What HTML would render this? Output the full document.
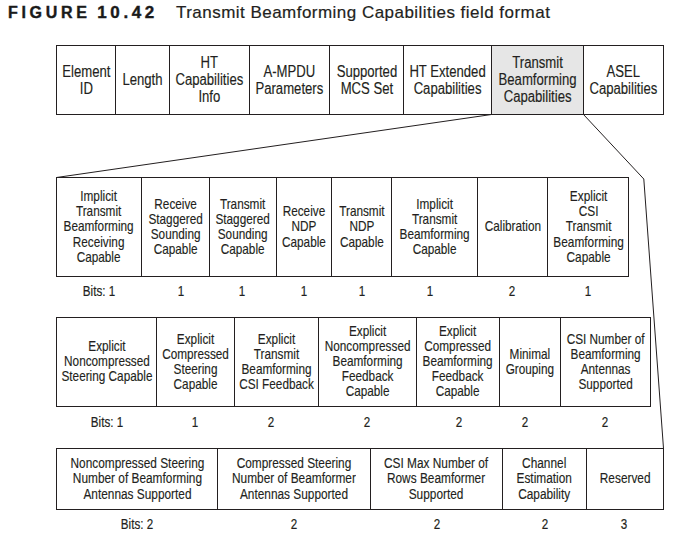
<!DOCTYPE html>
<html><head><meta charset="utf-8"><style>
html,body{margin:0;padding:0;background:#fff;}
body{width:697px;height:552px;position:relative;overflow:hidden;font-family:"Liberation Sans",sans-serif;color:#231f20;}
.l{position:absolute;background:#231f20;}
.c{position:absolute;display:flex;align-items:center;justify-content:center;}
.t{white-space:nowrap;text-align:center;flex:none;-webkit-text-stroke:0.15px #231f20;}
.n{position:absolute;width:100px;text-align:center;white-space:nowrap;-webkit-text-stroke:0.2px #231f20;}
.fig{position:absolute;left:8px;top:0;font-weight:bold;font-size:16px;letter-spacing:3.7px;white-space:nowrap;-webkit-text-stroke:0.4px #1a1a1a;color:#1a1a1a;}
.ttl{position:absolute;left:176px;top:0;font-size:17px;letter-spacing:0.47px;white-space:nowrap;-webkit-text-stroke:0.2px #231f20;}
</style></head><body>
<div class="fig" style="top:4.26px;line-height:18.4px">FIGURE <span style="letter-spacing:3.6px;font-size:17px;margin-left:-1.5px">10.42</span></div>
<div class="ttl" style="top:3.33px;line-height:19.549999999999997px">Transmit Beamforming Capabilities field format</div>
<svg style="position:absolute;left:0;top:0" width="697" height="552" viewBox="0 0 697 552">
<polyline points="491.5,114.5 56.5,177.5" fill="none" stroke="#231f20" stroke-width="1"/>
<polyline points="583.5,114.5 643.8,179 663.5,448.5" fill="none" stroke="#231f20" stroke-width="1"/>
</svg>
<div style="position:absolute;left:492px;top:46px;width:91px;height:68px;background:#e6e6e6"></div>
<div class="l" style="left:56px;top:45px;width:608px;height:1px"></div>
<div class="l" style="left:56px;top:114px;width:608px;height:1px"></div>
<div class="l" style="left:56px;top:45px;width:1px;height:70px"></div>
<div class="l" style="left:115px;top:45px;width:1px;height:70px"></div>
<div class="l" style="left:169px;top:45px;width:1px;height:70px"></div>
<div class="l" style="left:249px;top:45px;width:1px;height:70px"></div>
<div class="l" style="left:329px;top:45px;width:1px;height:70px"></div>
<div class="l" style="left:403px;top:45px;width:1px;height:70px"></div>
<div class="l" style="left:491px;top:45px;width:1px;height:70px"></div>
<div class="l" style="left:583px;top:45px;width:1px;height:70px"></div>
<div class="l" style="left:663px;top:45px;width:1px;height:70px"></div>
<div class="c" style="left:57px;top:45.5px;width:58px;height:68px;"><div class="t" style="font-size:16px;line-height:17px;transform:scaleX(0.82)">Element<br>ID</div></div>
<div class="c" style="left:116px;top:45.5px;width:53px;height:68px;"><div class="t" style="font-size:16px;line-height:17px;transform:scaleX(0.82)">Length</div></div>
<div class="c" style="left:170px;top:45.5px;width:79px;height:68px;"><div class="t" style="font-size:16px;line-height:17px;transform:scaleX(0.82)">HT<br>Capabilities<br>Info</div></div>
<div class="c" style="left:250px;top:45.5px;width:79px;height:68px;"><div class="t" style="font-size:16px;line-height:17px;transform:scaleX(0.82)">A-MPDU<br>Parameters</div></div>
<div class="c" style="left:330px;top:45.5px;width:73px;height:68px;"><div class="t" style="font-size:16px;line-height:17px;transform:scaleX(0.82)">Supported<br>MCS Set</div></div>
<div class="c" style="left:404px;top:45.5px;width:87px;height:68px;"><div class="t" style="font-size:16px;line-height:17px;transform:scaleX(0.82)">HT Extended<br>Capabilities</div></div>
<div class="c" style="left:492px;top:45.5px;width:91px;height:68px;"><div class="t" style="font-size:16px;line-height:17px;transform:scaleX(0.82)">Transmit<br>Beamforming<br>Capabilities</div></div>
<div class="c" style="left:584px;top:45.5px;width:79px;height:68px;"><div class="t" style="font-size:16px;line-height:17px;transform:scaleX(0.82)">ASEL<br>Capabilities</div></div>
<div class="l" style="left:56px;top:177px;width:573px;height:1px"></div>
<div class="l" style="left:56px;top:276px;width:573px;height:1px"></div>
<div class="l" style="left:56px;top:177px;width:1px;height:100px"></div>
<div class="l" style="left:141px;top:177px;width:1px;height:100px"></div>
<div class="l" style="left:209px;top:177px;width:1px;height:100px"></div>
<div class="l" style="left:276px;top:177px;width:1px;height:100px"></div>
<div class="l" style="left:331px;top:177px;width:1px;height:100px"></div>
<div class="l" style="left:391px;top:177px;width:1px;height:100px"></div>
<div class="l" style="left:477px;top:177px;width:1px;height:100px"></div>
<div class="l" style="left:547px;top:177px;width:1px;height:100px"></div>
<div class="l" style="left:628px;top:177px;width:1px;height:100px"></div>
<div class="c" style="left:57px;top:177px;width:84px;height:98px;"><div class="t" style="font-size:15px;line-height:15.1px;transform:scaleX(0.785)">Implicit<br>Transmit<br>Beamforming<br>Receiving<br>Capable</div></div>
<div class="c" style="left:142px;top:177px;width:67px;height:98px;"><div class="t" style="font-size:15px;line-height:15.1px;transform:scaleX(0.785)">Receive<br>Staggered<br>Sounding<br>Capable</div></div>
<div class="c" style="left:210px;top:177px;width:66px;height:98px;"><div class="t" style="font-size:15px;line-height:15.1px;transform:scaleX(0.785)">Transmit<br>Staggered<br>Sounding<br>Capable</div></div>
<div class="c" style="left:277px;top:177px;width:54px;height:98px;"><div class="t" style="font-size:15px;line-height:15.1px;transform:scaleX(0.785)">Receive<br>NDP<br>Capable</div></div>
<div class="c" style="left:332px;top:177px;width:59px;height:98px;"><div class="t" style="font-size:15px;line-height:15.1px;transform:scaleX(0.785)">Transmit<br>NDP<br>Capable</div></div>
<div class="c" style="left:392px;top:177px;width:85px;height:98px;"><div class="t" style="font-size:15px;line-height:15.1px;transform:scaleX(0.785)">Implicit<br>Transmit<br>Beamforming<br>Capable</div></div>
<div class="c" style="left:478px;top:177px;width:69px;height:98px;"><div class="t" style="font-size:15px;line-height:15.1px;transform:scaleX(0.785)">Calibration</div></div>
<div class="c" style="left:549px;top:177px;width:80px;height:98px;"><div class="t" style="font-size:15px;line-height:15.1px;transform:scaleX(0.79)">Explicit<br>CSI<br>Transmit<br>Beamforming<br>Capable</div></div>
<div class="n" style="left:48.5px;top:283.18px;font-size:15.5px;line-height:15.5px;transform:scaleX(0.75)">Bits: 1</div>
<div class="n" style="left:131.2px;top:283.18px;font-size:15.5px;line-height:15.5px;transform:scaleX(0.75)">1</div>
<div class="n" style="left:192.3px;top:283.18px;font-size:15.5px;line-height:15.5px;transform:scaleX(0.75)">1</div>
<div class="n" style="left:253.89999999999998px;top:283.18px;font-size:15.5px;line-height:15.5px;transform:scaleX(0.75)">1</div>
<div class="n" style="left:311.5px;top:283.18px;font-size:15.5px;line-height:15.5px;transform:scaleX(0.75)">1</div>
<div class="n" style="left:379.8px;top:283.18px;font-size:15.5px;line-height:15.5px;transform:scaleX(0.75)">1</div>
<div class="n" style="left:462.29999999999995px;top:283.18px;font-size:15.5px;line-height:15.5px;transform:scaleX(0.75)">2</div>
<div class="n" style="left:538.3px;top:283.18px;font-size:15.5px;line-height:15.5px;transform:scaleX(0.75)">1</div>
<div class="l" style="left:56px;top:317px;width:595px;height:1px"></div>
<div class="l" style="left:56px;top:406px;width:595px;height:1px"></div>
<div class="l" style="left:56px;top:317px;width:1px;height:90px"></div>
<div class="l" style="left:156px;top:317px;width:1px;height:90px"></div>
<div class="l" style="left:234px;top:317px;width:1px;height:90px"></div>
<div class="l" style="left:318px;top:317px;width:1px;height:90px"></div>
<div class="l" style="left:416px;top:317px;width:1px;height:90px"></div>
<div class="l" style="left:499px;top:317px;width:1px;height:90px"></div>
<div class="l" style="left:560px;top:317px;width:1px;height:90px"></div>
<div class="l" style="left:650px;top:317px;width:1px;height:90px"></div>
<div class="c" style="left:57px;top:316.8px;width:99px;height:88px;"><div class="t" style="font-size:15px;line-height:15.05px;transform:scaleX(0.785)">Explicit<br>Noncompressed<br>Steering Capable</div></div>
<div class="c" style="left:157px;top:316.8px;width:77px;height:88px;"><div class="t" style="font-size:15px;line-height:15.05px;transform:scaleX(0.785)">Explicit<br>Compressed<br>Steering<br>Capable</div></div>
<div class="c" style="left:235px;top:316.8px;width:83px;height:88px;"><div class="t" style="font-size:15px;line-height:15.05px;transform:scaleX(0.785)">Explicit<br>Transmit<br>Beamforming<br>CSI Feedback</div></div>
<div class="c" style="left:319px;top:316.8px;width:97px;height:88px;"><div class="t" style="font-size:15px;line-height:15.05px;transform:scaleX(0.785)">Explicit<br>Noncompressed<br>Beamforming<br>Feedback<br>Capable</div></div>
<div class="c" style="left:417px;top:316.8px;width:82px;height:88px;"><div class="t" style="font-size:15px;line-height:15.05px;transform:scaleX(0.785)">Explicit<br>Compressed<br>Beamforming<br>Feedback<br>Capable</div></div>
<div class="c" style="left:500px;top:316.8px;width:60px;height:88px;"><div class="t" style="font-size:15px;line-height:15.05px;transform:scaleX(0.785)">Minimal<br>Grouping</div></div>
<div class="c" style="left:561px;top:316.8px;width:89px;height:88px;"><div class="t" style="font-size:15px;line-height:15.05px;transform:scaleX(0.785)">CSI Number of<br>Beamforming<br>Antennas<br>Supported</div></div>
<div class="n" style="left:56.5px;top:413.68px;font-size:15.5px;line-height:15.5px;transform:scaleX(0.75)">Bits: 1</div>
<div class="n" style="left:145px;top:413.68px;font-size:15.5px;line-height:15.5px;transform:scaleX(0.75)">1</div>
<div class="n" style="left:221.2px;top:413.68px;font-size:15.5px;line-height:15.5px;transform:scaleX(0.75)">2</div>
<div class="n" style="left:316.7px;top:413.68px;font-size:15.5px;line-height:15.5px;transform:scaleX(0.75)">2</div>
<div class="n" style="left:408.6px;top:413.68px;font-size:15.5px;line-height:15.5px;transform:scaleX(0.75)">2</div>
<div class="n" style="left:475.1px;top:413.68px;font-size:15.5px;line-height:15.5px;transform:scaleX(0.75)">2</div>
<div class="n" style="left:554.6px;top:413.68px;font-size:15.5px;line-height:15.5px;transform:scaleX(0.75)">2</div>
<div class="l" style="left:56px;top:448px;width:608px;height:1px"></div>
<div class="l" style="left:56px;top:509px;width:608px;height:1px"></div>
<div class="l" style="left:56px;top:448px;width:1px;height:62px"></div>
<div class="l" style="left:217px;top:448px;width:1px;height:62px"></div>
<div class="l" style="left:370px;top:448px;width:1px;height:62px"></div>
<div class="l" style="left:502px;top:448px;width:1px;height:62px"></div>
<div class="l" style="left:586px;top:448px;width:1px;height:62px"></div>
<div class="l" style="left:663px;top:448px;width:1px;height:62px"></div>
<div class="c" style="left:57px;top:448.2px;width:160px;height:60px;"><div class="t" style="font-size:15.5px;line-height:15.7px;transform:scaleX(0.765)">Noncompressed Steering<br>Number of Beamforming<br>Antennas Supported</div></div>
<div class="c" style="left:218px;top:448.2px;width:152px;height:60px;"><div class="t" style="font-size:15.5px;line-height:15.7px;transform:scaleX(0.765)">Compressed Steering<br>Number of Beamformer<br>Antennas Supported</div></div>
<div class="c" style="left:371px;top:448.2px;width:131px;height:60px;"><div class="t" style="font-size:15.5px;line-height:15.7px;transform:scaleX(0.765)">CSI Max Number of<br>Rows Beamformer<br>Supported</div></div>
<div class="c" style="left:503px;top:448.2px;width:83px;height:60px;"><div class="t" style="font-size:15.5px;line-height:15.7px;transform:scaleX(0.765)">Channel<br>Estimation<br>Capability</div></div>
<div class="c" style="left:587px;top:448.2px;width:76px;height:60px;"><div class="t" style="font-size:15.5px;line-height:15.7px;transform:scaleX(0.765)">Reserved</div></div>
<div class="n" style="left:86.80000000000001px;top:516.18px;font-size:15.5px;line-height:15.5px;transform:scaleX(0.75)">Bits: 2</div>
<div class="n" style="left:243.8px;top:516.18px;font-size:15.5px;line-height:15.5px;transform:scaleX(0.75)">2</div>
<div class="n" style="left:386.6px;top:516.18px;font-size:15.5px;line-height:15.5px;transform:scaleX(0.75)">2</div>
<div class="n" style="left:494.5px;top:516.18px;font-size:15.5px;line-height:15.5px;transform:scaleX(0.75)">2</div>
<div class="n" style="left:574.4px;top:516.18px;font-size:15.5px;line-height:15.5px;transform:scaleX(0.75)">3</div>
</body></html>
